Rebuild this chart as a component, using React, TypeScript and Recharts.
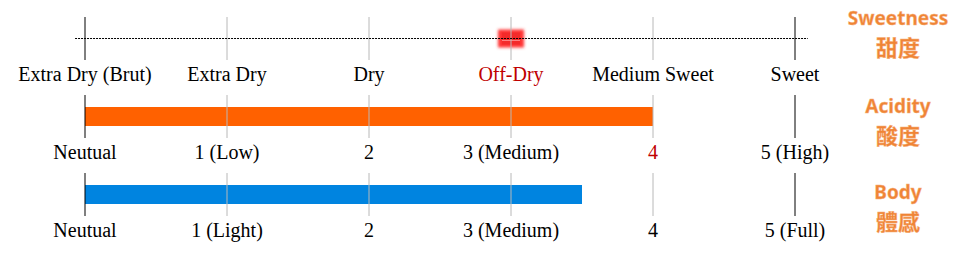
import React from 'react'
import {
  BarChart,
  Bar,
  ScatterChart,
  Scatter,
  XAxis,
  YAxis,
  ReferenceLine,
} from 'recharts'

const scaleTicks = [0, 1, 2, 3, 4, 5]
const sweetnessLabels = ['Extra Dry (Brut)', 'Extra Dry', 'Dry', 'Off-Dry', 'Medium Sweet', 'Sweet']
const acidityLabels = ['Neutual', '1 (Low)', '2', '3 (Medium)', '4', '5 (High)']
const bodyLabels = ['Neutual', '1 (Light)', '2', '3 (Medium)', '4', '5 (Full)']

const sweetnessValue = 3
const acidityValue = 4
const bodyValue = 3.5

const sideTitles = [
  { en: 'Sweetness', zh: '甜度' },
  { en: 'Acidity', zh: '酸度' },
  { en: 'Body', zh: '體感' },
]

const W = 973
const ROW_H = 86
const MARGIN = { top: 17, right: 178, bottom: 0, left: 85 }
const AXIS_H = 26
const LABEL_FONT = '"Liberation Serif", "Times New Roman", serif'

function ScaleTick(props: any) {
  const { x, y, payload, labels, highlight } = props
  const i = scaleTicks.indexOf(payload.value)
  return (
    <text
      x={x}
      y={y + 21}
      textAnchor="middle"
      fontFamily={LABEL_FONT}
      fontSize={20}
      fill={i === highlight ? '#c00000' : '#000'}
    >
      {labels[i]}
    </text>
  )
}

function gridLines() {
  return scaleTicks.map((t) => (
    <ReferenceLine
      key={t}
      x={t}
      stroke={t === 0 || t === 5 ? '#000' : '#b8b8b8'}
      strokeWidth={1}
      zIndex={900}
    />
  ))
}

function scaleAxis(labels: string[], highlight: number) {
  return (
    <XAxis
      type="number"
      dataKey="x"
      domain={[0, 5]}
      ticks={scaleTicks}
      interval={0}
      axisLine={false}
      tickLine={false}
      tickSize={0}
      tickMargin={0}
      height={AXIS_H}
      tick={<ScaleTick labels={labels} highlight={highlight} />}
    />
  )
}

function Marker(props: any) {
  const { cx, cy } = props
  return (
    <g>
      <defs>
        <filter id="mk-blur" x="-50%" y="-50%" width="200%" height="200%">
          <feGaussianBlur stdDeviation="1.8" />
        </filter>
      </defs>
      <rect x={cx - 13} y={cy - 9} width={26} height={18} fill="#ff3030" filter="url(#mk-blur)" />
      <rect x={cx - 9} y={cy - 6} width={18} height={12} fill="#f42a2a" />
      <line x1={cx - 9} x2={cx + 9} y1={cy + 2} y2={cy + 2} stroke="#ff8080" strokeWidth={1} />
    </g>
  )
}

function SweetnessRow() {
  const data = [{ x: sweetnessValue, y: 0.5 }]
  return (
    <ScatterChart width={W} height={ROW_H} margin={MARGIN}>
      {scaleAxis(sweetnessLabels, 3)}
      <YAxis type="number" dataKey="y" domain={[0, 1]} hide />
      <Scatter data={data} shape={<Marker />} isAnimationActive={false} />
      {gridLines()}
      <ReferenceLine
        segment={[
          { x: -0.07, y: 0.5 },
          { x: 5.09, y: 0.5 },
        ]}
        ifOverflow="visible"
        stroke="#000"
        strokeDasharray="2 1"
        zIndex={900}
      />
    </ScatterChart>
  )
}

function LevelRow({ name, value, labels, highlight, color }: any) {
  const data = [{ name, x: value }]
  return (
    <BarChart width={W} height={ROW_H} data={data} layout="vertical" margin={MARGIN} barCategoryGap={0}>
      {scaleAxis(labels, highlight)}
      <YAxis type="category" dataKey="name" hide />
      <Bar dataKey="x" fill={color} barSize={19} isAnimationActive={false} />
      {gridLines()}
    </BarChart>
  )
}

function SideTitle({ en, zh, top }: { en: string; zh: string; top: number }) {
  const common: React.CSSProperties = {
    position: 'absolute',
    left: 838,
    width: 120,
    textAlign: 'center',
    color: '#ef8436',
    fontWeight: 700,
    WebkitTextStroke: '0.4px #f7b37e',
    whiteSpace: 'nowrap',
  }
  return (
    <>
      <div style={{ ...common, top, fontFamily: '"Noto Sans", sans-serif', fontSize: 19, lineHeight: '20px' }}>{en}</div>
      <div style={{ ...common, top: top + 26, fontFamily: '"Noto Sans CJK TC", sans-serif', fontSize: 22, lineHeight: '24px' }}>{zh}</div>
    </>
  )
}

export default function App() {
  return (
    <div style={{ position: 'absolute', left: 0, top: 0, width: W, height: 253, background: '#fff' }}>
      <div style={{ position: 'absolute', left: 0, top: 0 }}>
        <SweetnessRow />
      </div>
      <div style={{ position: 'absolute', left: 0, top: 78 }}>
        <LevelRow name="Acidity" value={acidityValue} labels={acidityLabels} highlight={4} color="#ff6100" />
      </div>
      <div style={{ position: 'absolute', left: 0, top: 156 }}>
        <LevelRow name="Body" value={bodyValue} labels={bodyLabels} highlight={-1} color="#0084e0" />
      </div>
      <SideTitle en={sideTitles[0].en} zh={sideTitles[0].zh} top={8} />
      <SideTitle en={sideTitles[1].en} zh={sideTitles[1].zh} top={96} />
      <SideTitle en={sideTitles[2].en} zh={sideTitles[2].zh} top={182} />
    </div>
  )
}
